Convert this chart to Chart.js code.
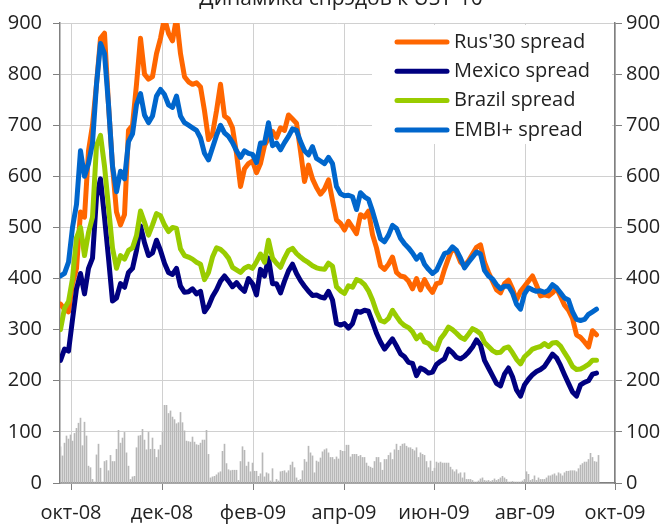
<!DOCTYPE html>
<html lang="ru">
<head>
<meta charset="UTF-8">
<title>Динамика спрэдов к UST-10</title>
<script src="https://cdn.jsdelivr.net/npm/chart.js"></script>
<style>
  html, body { margin: 0; padding: 0; background: #fff; }
  canvas { display: block; }
</style>
</head>
<body>
<canvas id="spreadChart" width="665" height="525"></canvas>
<script>
  // spreads to UST-10, bp -- one point every 2 trading days, from late Sep 2008
  const rus30 = [350,340,335,390,420,530,520,650,700,780,870,880,740,620,530,505,525,690,700,780,870,800,790,795,840,870,910,880,865,910,840,795,785,780,783,775,728,672,683,728,780,718,712,695,645,580,615,625,630,607,625,660,675,688,676,695,690,720,712,704,650,590,622,595,578,565,575,593,553,515,508,495,512,500,488,525,520,532,486,460,425,418,428,442,412,405,403,395,380,400,378,398,383,373,390,392,418,440,460,452,432,425,435,448,461,466,432,412,395,378,372,390,397,380,358,375,385,395,405,387,366,368,366,372,381,365,348,338,322,290,285,276,266,298,290];
  const mexico = [240,262,258,320,380,410,370,420,440,560,595,520,440,356,362,390,383,412,420,455,503,470,445,450,475,455,430,412,408,420,385,373,374,380,370,375,335,346,365,378,395,405,395,384,392,382,375,400,390,368,418,405,440,390,390,372,395,415,428,410,396,385,375,367,368,364,362,375,358,312,309,312,303,312,336,334,338,336,315,293,276,262,272,282,268,253,247,236,234,210,225,221,215,217,232,238,243,262,255,246,243,248,256,266,280,270,240,225,210,195,190,213,225,208,182,170,192,203,212,218,222,228,240,252,245,230,212,195,178,170,192,197,200,213,215];
  const brazil = [300,342,355,400,480,500,445,490,520,660,680,620,540,460,420,445,438,455,460,484,532,510,485,505,527,523,505,492,500,498,458,445,442,438,432,428,398,412,442,460,457,450,440,422,417,412,420,424,420,433,448,432,475,440,430,422,440,455,459,449,442,436,431,425,421,419,418,430,424,384,376,371,386,383,398,395,388,376,358,335,318,315,322,338,326,315,308,304,296,282,290,276,273,264,261,282,292,305,300,293,285,281,291,302,298,292,275,267,259,255,256,264,266,255,242,233,247,254,262,265,267,273,267,274,275,268,255,243,228,222,223,227,232,240,240];
  const embi = [405,410,432,500,545,650,600,625,665,780,860,840,740,620,570,610,595,668,683,740,762,720,705,718,757,770,760,740,735,757,718,705,700,695,690,675,645,632,656,680,700,685,678,666,650,637,650,645,643,627,665,665,705,660,665,652,666,678,693,690,668,650,642,658,635,630,625,637,625,580,566,562,563,560,535,568,560,555,532,505,478,472,485,504,498,479,468,460,450,438,447,428,418,410,416,433,449,452,462,455,440,421,432,442,452,448,416,405,399,388,380,385,385,372,350,340,370,382,378,375,376,373,377,388,382,372,362,358,335,320,318,320,330,335,340];

  // grey columns, one per trading day
  const volume = [71,53,78,92,86,94,82,97,107,117,127,73,119,92,33,30,7,2,55,76,29,2,42,44,24,54,42,42,66,103,78,88,99,59,33,7,12,13,69,92,93,105,84,65,99,66,88,66,50,65,74,99,152,152,136,141,129,124,116,118,138,118,102,82,81,80,90,80,75,74,78,84,84,103,56,10,12,13,16,20,22,62,76,38,26,24,25,25,25,5,42,71,64,33,41,22,39,23,23,13,18,59,12,20,18,4,28,2,7,4,22,23,24,20,24,35,41,30,10,5,7,24,46,41,72,59,53,20,43,41,49,61,65,67,59,50,50,46,51,
    47,64,62,62,74,74,51,56,56,56,52,54,50,50,39,33,31,29,42,50,50,40,25,46,46,54,59,46,65,76,64,72,76,77,72,69,69,66,63,69,50,59,56,54,42,30,43,23,29,41,39,41,39,39,39,39,31,26,22,26,18,20,10,20,7,7,7,5,2,2,4,8,10,5,4,5,3,5,8,5,7,10,13,10,7,2,2,3,2,2,2,2,4,7,22,17,5,7,14,5,10,7,7,7,10,14,14,16,18,14,20,18,14,20,23,23,24,24,24,22,28,35,38,41,41,46,58,50,42,41,54];

  const monthLabels = ["окт-08", "дек-08", "фев-09", "апр-09", "июн-09", "авг-09", "окт-09"];
  const monthTicks = [5.25, 50.75, 96.25, 141.75, 186.75, 232.25, 277.25]; // trading-day index of each label
  const lineStep = 2;

  const FONT = "'Open Sans', sans-serif";
  const toPoints = (arr, step) => arr.map((v, i) => ({ x: i * step, y: v }));

  function lineSet(label, data, color, order) {
    return {
      label: label,
      data: toPoints(data, lineStep),
      borderColor: color,
      backgroundColor: color,
      borderWidth: 5,
      pointRadius: 0,
      tension: 0,
      fill: false,
      borderJoinStyle: "round",
      borderCapStyle: "round",
      order: order
    };
  }

  // legend sits inside the plot, top right, on a white box
  const insideLegend = {
    id: "insideLegend",
    afterDatasetsDraw(chart) {
      const ctx = chart.ctx;
      const area = chart.chartArea;
      ctx.save();
      ctx.fillStyle = "#fff";
      ctx.fillRect(area.right - 243, area.top + 2, 240, 119);
      let y = area.top + 19;
      ctx.font = "20px " + FONT;
      ctx.textBaseline = "middle";
      chart.data.datasets.forEach(ds => {
        if (ds.type === "bar") return;
        ctx.strokeStyle = ds.borderColor;
        ctx.lineWidth = 5;
        ctx.lineCap = "round";
        ctx.beginPath();
        ctx.moveTo(area.right - 218, y);
        ctx.lineTo(area.right - 168, y);
        ctx.stroke();
        ctx.fillStyle = "#222";
        ctx.fillText(ds.label, area.right - 161, y);
        y += 29.3;
      });
      ctx.restore();
    }
  };

  // title is mostly cut off by the top edge
  const topTitle = {
    id: "topTitle",
    afterDraw(chart) {
      const ctx = chart.ctx;
      ctx.save();
      ctx.font = "21px " + FONT;
      ctx.fillStyle = "#222";
      ctx.textAlign = "center";
      ctx.textBaseline = "alphabetic";
      ctx.fillText("Динамика спрэдов к UST-10", 341, 5);
      ctx.restore();
    }
  };

  const yTicks = { stepSize: 100, color: "#222", font: { family: FONT, size: 20 } };

  new Chart(document.getElementById("spreadChart"), {
    type: "line",
    data: {
      datasets: [
        lineSet("Rus'30 spread", rus30, "#ff6600", 4),
        lineSet("Mexico spread", mexico, "#000080", 3),
        lineSet("Brazil spread", brazil, "#99cc00", 2),
        lineSet("EMBI+ spread", embi, "#0066cc", 1),
        {
          type: "bar",
          label: "volume",
          data: toPoints(volume, 1),
          backgroundColor: "#b8b8b8",
          barThickness: 1,
          order: 5
        }
      ]
    },
    options: {
      responsive: false,
      animation: false,
      layout: { padding: { top: 22, left: 0, right: 0, bottom: 0 } },
      plugins: {
        legend: { display: false },
        title: { display: false },
        tooltip: { enabled: false }
      },
      scales: {
        x: {
          type: "linear",
          min: -0.25,
          max: 277.25,
          offset: false,
          afterBuildTicks: scale => { scale.ticks = monthTicks.map(v => ({ value: v })); },
          afterFit: scale => { scale.height = 42; },
          ticks: {
            autoSkip: false,
            maxRotation: 0,
            padding: 11,
            color: "#222",
            font: { family: FONT, size: 20 },
            callback: (value, index) => monthLabels[index]
          },
          grid: { offset: false, color: "#d0d0d0", tickColor: "#808080", tickLength: 7 },
          border: { color: "#808080", width: 1.5 }
        },
        y: {
          position: "left",
          min: 0,
          max: 900,
          afterFit: scale => { scale.width = 60; },
          ticks: Object.assign({ padding: 11 }, yTicks),
          grid: { color: "#d0d0d0", tickColor: "#808080", tickLength: 7 },
          border: { color: "#808080", width: 1.5 }
        },
        y1: {
          position: "right",
          min: 0,
          max: 900,
          afterFit: scale => { scale.width = 50; },
          ticks: Object.assign({ padding: 4 }, yTicks),
          grid: { drawOnChartArea: false, tickColor: "#808080", tickLength: 7 },
          border: { color: "#808080", width: 1.5 }
        }
      }
    },
    plugins: [insideLegend, topTitle]
  });
</script>
</body>
</html>
